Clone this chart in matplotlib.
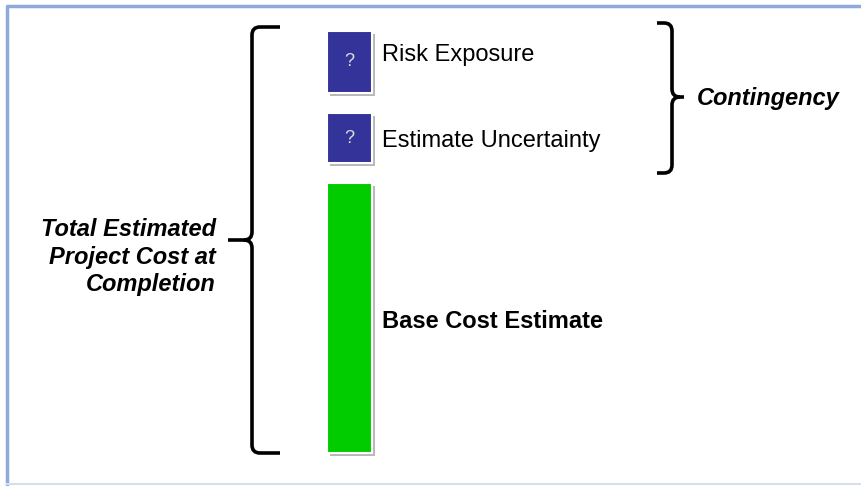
import matplotlib.pyplot as plt
from matplotlib.path import Path
import matplotlib.patches as patches

# stacked cost segments, bottom to top (heights in drawing units)
segments = ["Base Cost Estimate", "Estimate Uncertainty", "Risk Exposure"]
heights = [270, 50, 62]
colors = ["#00cc00", "#333399", "#333399"]
marks = ["", "?", "?"]
label_weight = ["bold", "normal", "normal"]
label_shift = [3, 3, -7]
gap = 20
base_y = 453

left_label = "Total Estimated\nProject Cost at\nCompletion"
right_label = "Contingency"

plt.rcParams['font.family'] = ['Liberation Sans', 'DejaVu Sans']

fig = plt.figure(figsize=(8.61, 4.86), dpi=100)
ax = fig.add_axes([0, 0, 1, 1])
ax.set_xlim(0, 861)
ax.set_ylim(486, 0)
ax.axis('off')

# frame
ax.plot([7, 7, 861], [486, 6, 6], color="#8eaadb", lw=2.5, solid_capstyle='butt')
ax.plot([7, 861], [484, 484], color="#d6deee", lw=1.5)

# stacked bars (y axis points down, so heights are negative)
x0, w = 327, 45
bottoms = []
b = base_y
for h in heights:
    bottoms.append(b)
    b = b - h - gap
for h, bt, c in zip(heights, bottoms, colors):
    ax.bar(x0 + 3, -h, bottom=bt + 3, width=w, align='edge', color="#b8b8b8", zorder=1)
    ax.bar(x0, -h, bottom=bt, width=w, align='edge', color=c,
           edgecolor="white", linewidth=1.5, zorder=2)

for name, h, bt, m, fw, dy in zip(segments, heights, bottoms, marks, label_weight, label_shift):
    yc = bt - h / 2
    if m:
        ax.text(x0 + w / 2, yc, m, ha='center', va='center', color="#dddddd",
                fontsize=13, zorder=3)
    ax.text(382, yc + dy, name, ha='left', va='center',
            fontsize=17, fontweight=fw, color="black")


def brace(x, top, bot, mid, tip, hook, r=8):
    s = 1 if hook > x else -1
    t = 1 if tip > x else -1
    verts = [(hook, top), (x + s * r, top), (x, top), (x, top + r),
             (x, mid - r), (x, mid), (x + t * r, mid),
             (tip, mid),
             (x + t * r, mid), (x, mid), (x, mid + r),
             (x, bot - r), (x, bot), (x + s * r, bot), (hook, bot)]
    codes = [Path.MOVETO, Path.LINETO, Path.CURVE3, Path.CURVE3,
             Path.LINETO, Path.CURVE3, Path.CURVE3,
             Path.LINETO,
             Path.MOVETO, Path.CURVE3, Path.CURVE3,
             Path.LINETO, Path.CURVE3, Path.CURVE3, Path.LINETO]
    ax.add_patch(patches.PathPatch(Path(verts, codes), fill=False, lw=2.6,
                                   edgecolor="black", capstyle='butt'))


total_top = bottoms[-1] - heights[-1]
brace(252, total_top - 4, base_y, 240, 228, 280)
brace(672, 23, 173, 97, 684, 657)

ax.text(216, 257, left_label, ha='right', va='center', fontsize=17,
        fontweight='bold', fontstyle='italic', linespacing=1.27)
ax.text(697, 98, right_label, ha='left', va='center', fontsize=17,
        fontweight='bold', fontstyle='italic')

fig.savefig("out.png", dpi=100)
